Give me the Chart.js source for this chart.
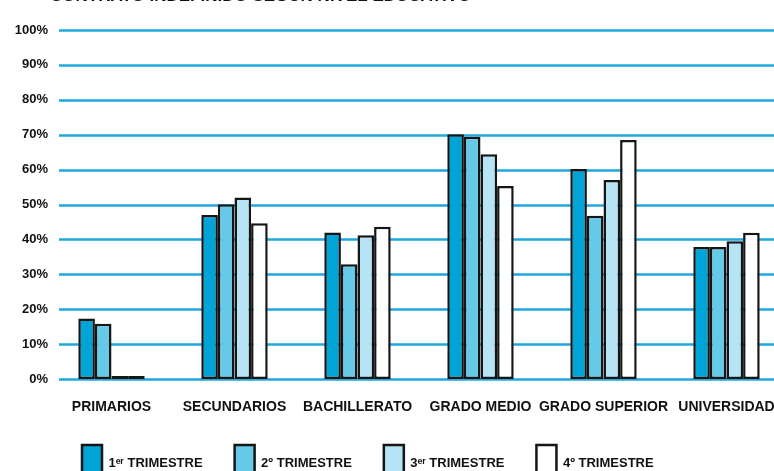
<!DOCTYPE html>
<html>
<head>
<meta charset="utf-8">
<script src="https://cdn.jsdelivr.net/npm/chart.js@4"></script>
<style>
  html, body { margin: 0; padding: 0; background: #fff; }
  #wrap { position: relative; width: 774px; height: 471px; overflow: hidden; }
  #chart { position: absolute; left: 0; top: -14px; }
</style>
</head>
<body>
<div id="wrap">
  <canvas id="chart" width="800" height="505" style="width:800px;height:505px"></canvas>
</div>
<script>
// datos
const TITLE      = "CONTRATO INDEFINIDO SEGÚN NIVEL EDUCATIVO";
const CATEGORIES = ["PRIMARIOS", "SECUNDARIOS", "BACHILLERATO", "GRADO MEDIO", "GRADO SUPERIOR", "UNIVERSIDAD"];
const SERIES     = ["1ᵉʳ TRIMESTRE", "2º TRIMESTRE", "3ᵉʳ TRIMESTRE", "4º TRIMESTRE"];
const T1 = [17.3, 47.0, 42.0, 70.1, 60.2, 37.8];
const T2 = [15.8, 50.1, 32.9, 69.4, 46.8, 37.8];
const T3 = [0, 52.0, 41.2, 64.4, 57.0, 39.5];
const T4 = [0, 44.6, 43.6, 55.3, 68.5, 41.9];
const Y_TICKS = [0, 10, 20, 30, 40, 50, 60, 70, 80, 90, 100];

const COLORS   = ["#00a4d6", "#66c9e8", "#b6e4f4", "#ffffff"];
const GRID_CLR = "#1ea8de";
const FONT     = "'Liberation Sans', Arial, sans-serif";

// líneas horizontales que empiezan algo a la derecha del eje
const gridLines = {
  id: "gridLines",
  beforeDatasetsDraw(chart) {
    const { ctx, chartArea, scales } = chart;
    ctx.save();
    ctx.strokeStyle = GRID_CLR;
    ctx.lineWidth = 2.5;
    scales.y.ticks.forEach(t => {
      const y = Math.round(scales.y.getPixelForValue(t.value)) + 0.5;
      ctx.beginPath();
      ctx.moveTo(chartArea.left + 9, y);
      ctx.lineTo(chart.width, y);
      ctx.stroke();
    });
    ctx.restore();
  }
};

const datasets = [T1, T2, T3, T4].map((data, i) => ({
  label: SERIES[i],
  data,
  backgroundColor: COLORS[i],
  borderColor: "#151515",
  borderWidth: 2.5,
  borderSkipped: false,
  minBarLength: 3,
  categoryPercentage: 0.54,
  barPercentage: 1.0
}));

new Chart(document.getElementById("chart"), {
  type: "bar",
  data: { labels: CATEGORIES, datasets },
  plugins: [gridLines],
  options: {
    responsive: false,
    animation: false,
    layout: { padding: { left: 0, right: 12, top: 0, bottom: 0 } },
    plugins: {
      title: {
        display: true,
        text: TITLE,
        align: "start",
        fullSize: false,
        color: "#111",
        font: { family: FONT, size: 17, weight: "bold" },
        padding: { top: 0, bottom: 23.6 }
      },
      legend: {
        position: "bottom",
        align: "start",
        fullSize: false,
        labels: {
          color: "#111",
          font: { family: FONT, size: 13, weight: "bold" },
          boxWidth: 20,
          boxHeight: 36,
          padding: 32
        }
      },
      tooltip: { enabled: false }
    },
    scales: {
      x: {
        grid: { display: false, drawTicks: false },
        border: { display: false },
        ticks: {
          color: "#111",
          font: { family: FONT, size: 14, weight: "bold" },
          padding: 20,
          maxRotation: 0,
          autoSkip: false
        },
        afterFit: s => { s.height = 34; }
      },
      y: {
        min: 0,
        max: 100,
        grid: { display: false, drawTicks: false },
        border: { display: false },
        afterBuildTicks: s => { s.ticks = Y_TICKS.map(v => ({ value: v })); },
        ticks: {
          color: "#111",
          font: { family: FONT, size: 13, weight: "bold" },
          padding: 2,
          callback: v => v + "%"
        },
        afterFit: s => { s.width = 50; }
      }
    }
  }
});
</script>
</body>
</html>
